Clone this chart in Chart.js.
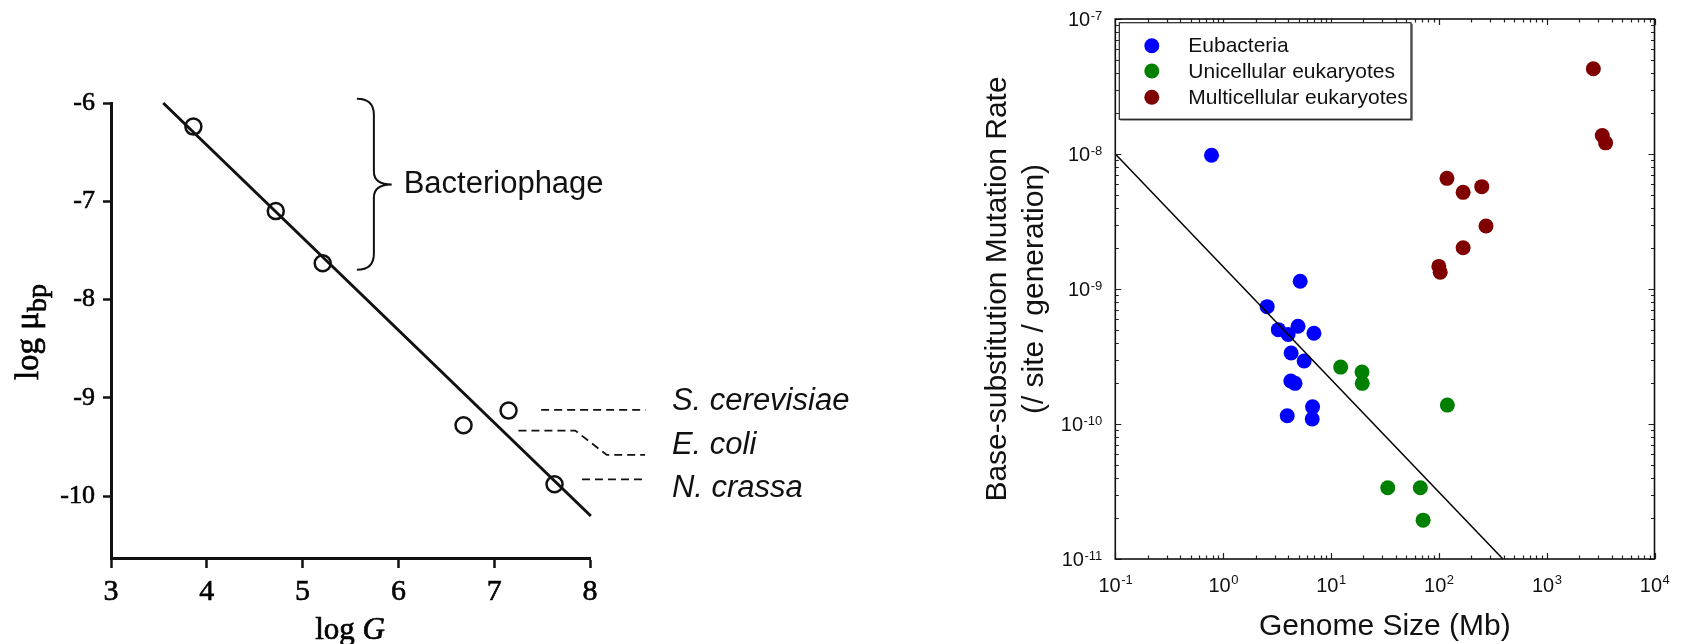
<!DOCTYPE html>
<html><head><meta charset="utf-8">
<script src="https://cdn.jsdelivr.net/npm/chart.js@4.4.1/dist/chart.umd.min.js"></script>
<style>
html,body{margin:0;padding:0;background:#fff;width:1687px;height:644px;overflow:hidden}
#l{position:absolute;left:0;top:0}
#r{position:absolute;left:900px;top:0}
</style></head><body>
<canvas id="l" width="900" height="644"></canvas>
<canvas id="r" width="787" height="644"></canvas>
<script>
// ---------- Left panel (log10 values) ----------
const phageLogG  = [3.86, 4.72, 5.21, 6.68, 7.15, 7.63];
const phageLogMu = [-6.24, -7.10, -7.63, -9.28, -9.13, -9.88];
const fitLogG  = [3.545, 8.009];
const fitLogMu = [-6.0, -10.203];
const leftXTicks = [3, 4, 5, 6, 7, 8];
const leftXTickLabels = ['3', '4', '5', '6', '7', '8'];
const leftYTicks = [-10, -9, -8, -7, -6];
const leftYTickLabels = ['-10', '-9', '-8', '-7', '-6'];
const speciesNames = ['S. cerevisiae', 'E. coli', 'N. crassa'];
const groupName = 'Bacteriophage';

// ---------- Right panel ----------
const eubactSize = [0.78, 5.18, 2.56, 3.25, 4.0, 4.95, 6.95, 4.27, 5.64, 4.24, 4.64, 3.93, 6.75, 6.70];
const eubactRate = [9.8e-9, 1.14e-9, 7.4e-10, 5.0e-10, 4.6e-10, 5.3e-10, 4.7e-10, 3.36e-10, 2.93e-10, 2.08e-10, 2.0e-10, 1.15e-10, 1.34e-10, 1.09e-10];
const unicelSize = [12.3, 19.4, 19.5, 120, 33.6, 67.4, 71.5];
const unicelRate = [2.64e-10, 2.43e-10, 2.0e-10, 1.38e-10, 3.37e-11, 3.37e-11, 1.94e-11];
const multiSize = [2710, 3280, 3520, 119, 168, 250, 274, 168, 100, 103];
const multiRate = [4.28e-8, 1.37e-8, 1.21e-8, 6.6e-9, 5.2e-9, 5.73e-9, 2.93e-9, 2.02e-9, 1.47e-9, 1.33e-9];
const fitSize = [0.1, 393];
const fitRate = [1e-8, 1e-11];
const seriesNames = ['Eubacteria', 'Unicellular eukaryotes', 'Multicellular eukaryotes'];
const seriesColors = ['#0000ff', '#008000', '#800000'];
const rightXTickExps = [-1, 0, 1, 2, 3, 4];
const rightYTickExps = [-11, -10, -9, -8, -7];
const rightXTitle = 'Genome Size (Mb)';
const rightYTitle = ['Base-substitution Mutation Rate', '(/ site / generation)'];

const SERIF = '"Liberation Serif", "Times New Roman", serif';
const SANS = '"Liberation Sans", Arial, sans-serif';
const pts = (xs, ys) => xs.map((x, i) => ({x, y: ys[i]}));

// ---------- Left annotations ----------
const leftAnnot = {
  id: 'leftAnnot',
  afterDraw(chart) {
    const {ctx, scales: {x, y}} = chart;
    const px = v => x.getPixelForValue(v), py = v => y.getPixelForValue(v);
    ctx.save();
    ctx.strokeStyle = '#111';
    ctx.lineWidth = 1.8;
    ctx.setLineDash([8, 5]);
    const poly = p => { ctx.beginPath(); p.forEach((q, i) => i ? ctx.lineTo(px(q[0]), py(q[1])) : ctx.moveTo(px(q[0]), py(q[1]))); ctx.stroke(); };
    poly([[7.49, -9.123], [8.58, -9.123]]);
    poly([[7.253, -9.334], [7.846, -9.334], [8.176, -9.581], [8.574, -9.581]]);
    poly([[7.916, -9.829], [8.574, -9.829]]);
    ctx.setLineDash([]);
    // brace
    const bl = px(5.567), bs = px(5.744), bt = px(5.93);
    const yTop = py(-5.956), yTip = py(-6.829), yBot = py(-7.698);
    ctx.lineWidth = 2;
    ctx.beginPath();
    ctx.moveTo(bl, yTop);
    ctx.quadraticCurveTo(bs, yTop, bs, yTop + 16);
    ctx.lineTo(bs, yTip - 13);
    ctx.quadraticCurveTo(bs, yTip, bt, yTip);
    ctx.quadraticCurveTo(bs, yTip, bs, yTip + 13);
    ctx.lineTo(bs, yBot - 16);
    ctx.quadraticCurveTo(bs, yBot, bl, yBot);
    ctx.stroke();
    // texts
    ctx.fillStyle = '#111';
    ctx.textBaseline = 'middle';
    ctx.textAlign = 'left';
    ctx.font = '31px ' + SANS;
    ctx.fillText(groupName, px(6.055), yTip);
    ctx.font = 'italic 31px ' + SANS;
    const sy = [-9.008, -9.456, -9.894];
    speciesNames.forEach((s, i) => ctx.fillText(s, px(8.855), py(sy[i]) + 3));
    // axis titles (serif, slightly heavy like the scanned original)
    ctx.fillStyle = '#000';
    ctx.strokeStyle = '#000';
    ctx.lineWidth = 0.7;
    const txt = (t, xx, yy) => { ctx.fillText(t, xx, yy); ctx.strokeText(t, xx, yy); };
    ctx.textBaseline = 'alphabetic';
    ctx.font = '31px ' + SERIF;
    const w1 = ctx.measureText('log ').width;
    ctx.font = 'italic 31px ' + SERIF;
    const w2 = ctx.measureText('G').width;
    const cx = 350, by = 639;
    ctx.font = '31px ' + SERIF;
    txt('log ', cx - (w1 + w2) / 2, by);
    ctx.font = 'italic 31px ' + SERIF;
    txt('G', cx - (w1 + w2) / 2 + w1, by);
    // y title rotated
    ctx.save();
    ctx.translate(38, 332);
    ctx.rotate(-Math.PI / 2);
    ctx.font = '33px ' + SERIF;
    const a1 = ctx.measureText('log \u03bc').width;
    ctx.font = '28px ' + SERIF;
    const a2 = ctx.measureText('bp').width;
    ctx.font = '33px ' + SERIF;
    txt('log \u03bc', -(a1 + a2) / 2, 0);
    ctx.font = '28px ' + SERIF;
    txt('bp', -(a1 + a2) / 2 + a1, 8);
    ctx.restore();
    ctx.restore();
  }
};

new Chart(document.getElementById('l'), {
  type: 'scatter',
  data: { datasets: [
    { data: pts(fitLogG, fitLogMu), showLine: true, borderColor: '#111', borderWidth: 3, pointRadius: 0, clip: false, order: 1 },
    { data: pts(phageLogG, phageLogMu), pointStyle: 'circle', pointRadius: 8, pointBorderWidth: 2.5,
      borderColor: '#111', backgroundColor: 'rgba(0,0,0,0)', order: 0 }
  ]},
  options: {
    responsive: false, animation: false, devicePixelRatio: 1, events: [],
    layout: { padding: { left: 0, right: 310, top: 103, bottom: 0 } },
    plugins: { legend: { display: false }, tooltip: { enabled: false } },
    scales: {
      x: { type: 'linear', min: 3, max: 8,
        afterBuildTicks: s => { s.ticks = leftXTicks.map(v => ({value: v})); },
        afterFit: s => { s.height = 86; },
        grid: { drawOnChartArea: false, drawTicks: true, tickLength: 10, tickWidth: 2.5, tickColor: '#111', color: '#111' },
        border: { display: true, width: 3, color: '#111' },
        ticks: { font: { family: SERIF, size: 30 }, color: '#000', textStrokeColor: '#000', textStrokeWidth: 0.6,
          padding: 6, maxRotation: 0, autoSkip: false, callback: (v, i) => leftXTickLabels[i] } },
      y: { type: 'linear', min: -10.63, max: -6,
        afterBuildTicks: s => { s.ticks = leftYTicks.map(v => ({value: v})); },
        afterFit: s => { s.width = 111; },
        grid: { drawOnChartArea: false, drawTicks: true, tickLength: 8, tickWidth: 2.5, tickColor: '#111', color: '#111' },
        border: { display: true, width: 3, color: '#111' },
        ticks: { font: { family: SERIF, size: 26 }, color: '#000', textStrokeColor: '#000', textStrokeWidth: 0.6,
          padding: 8, autoSkip: false, callback: (v, i) => leftYTickLabels[i] } }
    }
  },
  plugins: [leftAnnot]
});

// ---------- Right decorations ----------
const rightDecor = {
  id: 'rightDecor',
  afterDraw(chart) {
    const {ctx, chartArea: a, scales: {x, y}} = chart;
    ctx.save();
    // ticks (inward, all four sides)
    ctx.strokeStyle = '#222';
    ctx.lineWidth = 1.2;
    const xmin = rightXTickExps[0], xmax = rightXTickExps[rightXTickExps.length - 1];
    for (let e = xmin; e <= xmax; e++) {
      for (let m = 1; m <= 9; m++) {
        if (e === xmax && m > 1) break;
        const p = Math.round(x.getPixelForValue(m * Math.pow(10, e))) + 0.5;
        const len = m === 1 ? 6 : 3.5;
        ctx.beginPath();
        ctx.moveTo(p, a.bottom); ctx.lineTo(p, a.bottom - len);
        ctx.moveTo(p, a.top); ctx.lineTo(p, a.top + len);
        ctx.stroke();
      }
    }
    const ymin = rightYTickExps[0], ymax = rightYTickExps[rightYTickExps.length - 1];
    for (let e = ymin; e <= ymax; e++) {
      for (let m = 1; m <= 9; m++) {
        if (e === ymax && m > 1) break;
        const p = Math.round(y.getPixelForValue(m * Math.pow(10, e))) + 0.5;
        const len = m === 1 ? 6 : 3.5;
        ctx.beginPath();
        ctx.moveTo(a.left, p); ctx.lineTo(a.left + len, p);
        ctx.moveTo(a.right, p); ctx.lineTo(a.right - len, p);
        ctx.stroke();
      }
    }
    // frame
    ctx.strokeStyle = '#111';
    ctx.lineWidth = 1.6;
    ctx.strokeRect(a.left, a.top, a.right - a.left, a.bottom - a.top);
    // tick labels
    ctx.fillStyle = '#111';
    ctx.textBaseline = 'alphabetic';
    const big = '20px ' + SANS, sml = '13px ' + SANS;
    rightXTickExps.forEach(e => {
      const p = x.getPixelForValue(Math.pow(10, e));
      ctx.font = big; const wb = ctx.measureText('10').width;
      ctx.font = sml; const ws = ctx.measureText(String(e)).width;
      const sx = p - (wb + ws) / 2;
      ctx.textAlign = 'left';
      ctx.font = big; ctx.fillText('10', sx, a.bottom + 33);
      ctx.font = sml; ctx.fillText(String(e), sx + wb + 0.5, a.bottom + 25);
    });
    rightYTickExps.forEach(e => {
      const p = y.getPixelForValue(Math.pow(10, e));
      const rx = a.left - 13;
      ctx.font = sml; const ws = ctx.measureText(String(e)).width;
      ctx.textAlign = 'right';
      ctx.fillText(String(e), rx, p + 1);
      ctx.font = big; ctx.fillText('10', rx - ws - 0.5, p + 7);
    });
    // axis titles
    ctx.font = '30px ' + SANS;
    ctx.textAlign = 'center';
    ctx.fillText(rightXTitle, (a.left + a.right) / 2, a.bottom + 76);
    const cy = (a.top + a.bottom) / 2;
    [98, 135].forEach((cx, i) => {
      ctx.save();
      ctx.translate(cx, cy);
      ctx.rotate(-Math.PI / 2);
      ctx.textBaseline = 'middle';
      ctx.fillText(rightYTitle[i], 0, 0);
      ctx.restore();
    });
    // legend
    const lx = a.left + 4, ly = a.top + 3.7, lw = 291.7, lh = 96.6;
    ctx.fillStyle = '#fff';
    ctx.fillRect(lx, ly, lw, lh);
    ctx.strokeStyle = '#888';
    ctx.lineWidth = 2;
    ctx.beginPath(); ctx.moveTo(lx + 1, ly + lh + 0.5); ctx.lineTo(lx + lw + 1, ly + lh + 0.5); ctx.lineTo(lx + lw + 1, ly + 1); ctx.stroke();
    ctx.strokeStyle = '#222';
    ctx.lineWidth = 1.2;
    ctx.strokeRect(lx, ly, lw, lh);
    const rows = [45.7, 71, 97.3];
    chart.data.datasets.filter(d => d.label && d.label !== 'fit').forEach((d, i) => {
      ctx.fillStyle = d.backgroundColor;
      ctx.beginPath(); ctx.arc(a.left + 36.5, rows[i], 7.5, 0, Math.PI * 2); ctx.fill();
      ctx.fillStyle = '#111';
      ctx.font = '21px ' + SANS;
      ctx.textAlign = 'left'; ctx.textBaseline = 'middle';
      ctx.fillText(d.label, a.left + 73, rows[i] + 1);
    });
    ctx.restore();
  }
};

const dotDs = (i, xs, ys) => ({ label: seriesNames[i], data: pts(xs, ys), backgroundColor: seriesColors[i],
  borderColor: seriesColors[i], pointRadius: 7.5, pointBorderWidth: 0, order: 1 });

new Chart(document.getElementById('r'), {
  type: 'scatter',
  data: { datasets: [
    { label: 'fit', data: pts(fitSize, fitRate), showLine: true, borderColor: '#000', borderWidth: 1.5, pointRadius: 0, order: -1 },
    dotDs(0, eubactSize, eubactRate),
    dotDs(1, unicelSize, unicelRate),
    dotDs(2, multiSize, multiRate)
  ]},
  options: {
    responsive: false, animation: false, devicePixelRatio: 1, events: [],
    layout: { padding: { left: 0, right: 32.5, top: 19, bottom: 0 } },
    plugins: { legend: { display: false }, tooltip: { enabled: false } },
    scales: {
      x: { type: 'logarithmic', min: 0.1, max: 1e4, afterFit: s => { s.height = 85; },
        grid: { display: false }, border: { display: false }, ticks: { display: false } },
      y: { type: 'logarithmic', min: 1e-11, max: 1e-7, afterFit: s => { s.width = 215.3; },
        grid: { display: false }, border: { display: false }, ticks: { display: false } }
    }
  },
  plugins: [rightDecor]
});
</script>
</body></html>
